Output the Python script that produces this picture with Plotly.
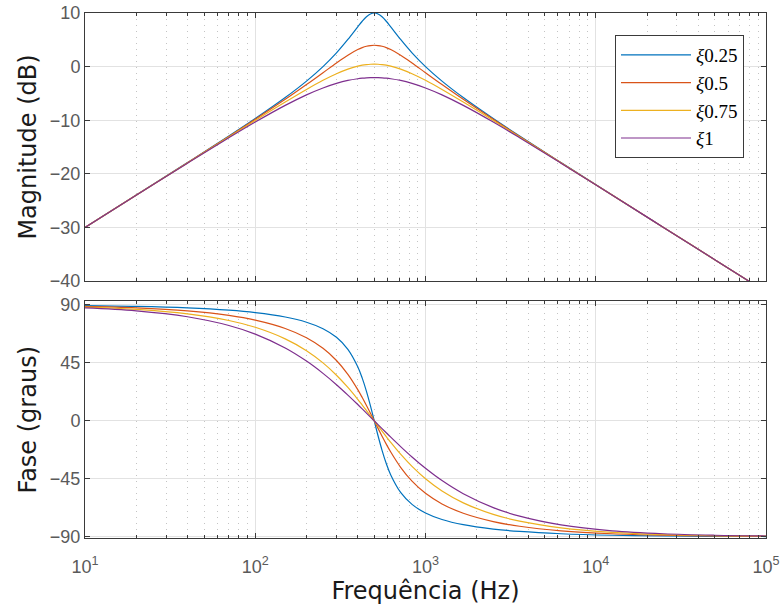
import plotly.graph_objects as go

# Frequencies (Hz)
freq = [10, 20, 40, 70, 100, 150, 200, 250, 300, 350, 400, 425, 450, 475, 500,
        526.3, 555.6, 588.2, 625, 714.3, 833.3, 1000, 1250, 1666.7, 2500, 3571.4,
        6250, 12500, 25000, 50000, 100000]

labels = ["ξ0.25", "ξ0.5", "ξ0.75", "ξ1"]
colors = ["#0072BD", "#D95319", "#EDB120", "#7E2F8E"]

# Magnitude (dB)
mag_025 = [-30.0, -23.97, -17.91, -12.95, -9.69, -5.78, -2.71, 0.00, 2.56, 5.06, 7.42, 8.46, 9.29, 9.82, 10.0,
           9.82, 9.29, 8.46, 7.42, 5.06, 2.56, 0.00, -2.71, -5.78, -9.69, -12.95, -17.91, -23.97, -30.0, -36.02, -42.04]
mag_05 = [-30.0, -23.97, -17.93, -13.02, -9.83, -6.11, -3.35, -1.14, 0.68, 2.13, 3.18, 3.54, 3.79, 3.93, 3.98,
          3.93, 3.79, 3.54, 3.18, 2.13, 0.68, -1.14, -3.35, -6.11, -9.83, -13.02, -17.93, -23.97, -30.0, -36.02, -42.04]
mag_075 = [-30.0, -23.98, -17.97, -13.12, -10.05, -6.61, -4.26, -2.55, -1.32, -0.46, 0.08, 0.26, 0.37, 0.44, 0.46,
           0.44, 0.37, 0.26, 0.08, -0.46, -1.32, -2.55, -4.26, -6.61, -10.05, -13.12, -17.97, -23.98, -30.0, -36.02, -42.04]
mag_1 = [-30.0, -23.99, -18.02, -13.27, -10.34, -7.23, -5.27, -3.98, -3.13, -2.58, -2.26, -2.16, -2.09, -2.05, -2.04,
         -2.05, -2.09, -2.16, -2.26, -2.58, -3.13, -3.98, -5.27, -7.23, -10.34, -13.27, -18.02, -23.99, -30.0, -36.02, -42.04]

# Phase (degrees)
ph_025 = [89.43, 88.85, 87.69, 85.92, 84.05, 80.64, 76.61, 71.57, 64.89, 55.54, 41.99, 33.14, 22.89, 11.60, 0.0,
          -11.60, -22.89, -33.14, -41.99, -55.54, -64.89, -71.57, -76.61, -80.64, -84.05, -85.92, -87.69, -88.85, -89.43, -89.71, -89.86]
ph_05 = [88.85, 87.71, 85.40, 81.87, 78.23, 71.76, 64.54, 56.31, 46.85, 36.08, 24.23, 18.08, 11.92, 5.86, 0.0,
         -5.86, -11.92, -18.08, -24.23, -36.08, -46.85, -56.31, -64.54, -71.76, -78.23, -81.87, -85.40, -87.71, -88.85, -89.43, -89.71]
ph_075 = [88.28, 86.56, 83.11, 77.91, 72.65, 63.69, 54.46, 45.0, 35.42, 25.91, 16.70, 12.28, 8.01, 3.91, 0.0,
          -3.91, -8.01, -12.28, -16.70, -25.91, -35.42, -45.0, -54.46, -63.69, -72.65, -77.91, -83.11, -86.56, -88.28, -89.14, -89.57]
ph_1 = [87.71, 85.42, 80.85, 74.06, 67.38, 56.60, 46.40, 36.87, 28.07, 20.0, 12.68, 9.27, 6.03, 2.94, 0.0,
        -2.94, -6.03, -9.27, -12.68, -20.0, -28.07, -36.87, -46.40, -56.60, -67.38, -74.06, -80.85, -85.42, -87.71, -88.85, -89.43]

mags = [mag_025, mag_05, mag_075, mag_1]
phases = [ph_025, ph_05, ph_075, ph_1]

x_tickvals = [10, 100, 1000, 10000, 100000]
x_ticktext = ["10<sup>1</sup>", "10<sup>2</sup>", "10<sup>3</sup>", "10<sup>4</sup>", "10<sup>5</sup>"]
mag_ticks = [-40, -30, -20, -10, 0, 10]
phase_ticks = [-90, -45, 0, 45, 90]

minor_vals = [m * 10 ** k for k in range(1, 5) for m in range(2, 10)]

fig = go.Figure()
for lab, col, m in zip(labels, colors, mags):
    fig.add_trace(go.Scatter(x=freq, y=m, mode="lines", name="<i>ξ</i>" + lab[1:],
                             line=dict(color=col, width=1.2, shape="spline"),
                             xaxis="x", yaxis="y"))
for lab, col, p in zip(labels, colors, phases):
    fig.add_trace(go.Scatter(x=freq, y=p, mode="lines", showlegend=False,
                             line=dict(color=col, width=1.2, shape="spline"),
                             xaxis="x2", yaxis="y2"))

axis_col = "#3a3a3a"
tick_font = dict(family="Liberation Sans, Arial", size=18, color="#5a5a5a")
title_font = dict(family="DejaVu Sans", size=24, color="#1a1a1a")
grid_col = "#e2e2e2"
minor = dict(tickmode="array", tickvals=minor_vals, ticks="inside", ticklen=3,
             tickcolor=axis_col, showgrid=True, griddash="1px,5px",
             gridcolor="#c4c4c4", gridwidth=1)

common_x = dict(type="log", range=[1, 5], showline=True, linecolor=axis_col, linewidth=1,
                mirror="ticks", ticks="inside", ticklen=5, tickcolor=axis_col,
                tickvals=x_tickvals, ticktext=x_ticktext, automargin=False,
                showgrid=True, gridcolor=grid_col, gridwidth=1, zeroline=False,
                ticklabeloverflow="allow", minor=minor)

common_y = dict(showline=True, linecolor=axis_col, linewidth=1, mirror="ticks",
                ticks="inside", ticklen=5, tickcolor=axis_col, automargin=False,
                showgrid=True, gridcolor=grid_col, zeroline=False,
                tickfont=tick_font, ticklabelstandoff=0, ticklabeloverflow="allow")

fig.update_layout(
    width=782, height=610,
    margin=dict(l=85, r=16, t=13, b=72),
    paper_bgcolor="white", plot_bgcolor="white",
    showlegend=True,
    legend=dict(x=0.9677, y=0.958, xanchor="right", yanchor="top",
                bordercolor=axis_col, borderwidth=1, bgcolor="white",
                font=dict(family="Liberation Serif, DejaVu Serif", size=19, color="#000000"),
                tracegroupgap=0, itemwidth=70),
    xaxis=dict(domain=[0, 1], anchor="y", showticklabels=False, **common_x),
    yaxis=dict(domain=[0.4895, 1], anchor="x", range=[-40, 10], tickvals=mag_ticks,
               title=dict(text="Magnitude (dB)", font=title_font, standoff=6),
               **common_y),
    xaxis2=dict(domain=[0, 1], anchor="y2", matches="x", tickfont=tick_font,
                ticklabelstandoff=12,
                title=dict(text="Frequência (Hz)", font=title_font, standoff=2),
                **common_x),
    yaxis2=dict(domain=[0, 0.4505], anchor="x2", range=[-91.0, 92.7], tickvals=phase_ticks,
                title=dict(text="Fase (graus)", font=title_font, standoff=6),
                **common_y),
)

# remove the default page margin so the 782x610 figure fills the window exactly
fig.write_html("out.html", config={"displayModeBar": False},
               post_script="document.body.style.margin='0';document.body.style.overflow='hidden';")
